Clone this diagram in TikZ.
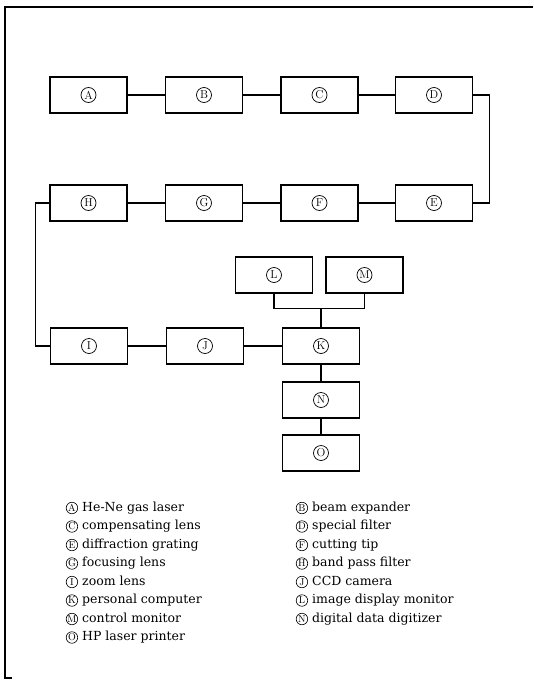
\documentclass[tikz,border=0pt]{standalone}
\usepackage{fontspec}
\usepackage{tikz}
\usetikzlibrary{positioning}
\newfontfamily\keyfont{DejaVu Serif}

\tikzset{
  blk/.style={draw,line width=1.3pt,minimum width=77pt,minimum height=36pt,inner sep=0pt,
    font=\fontsize{11.5}{13}\selectfont,
    path picture={\draw[line width=0.7pt] (path picture bounding box.center) circle (7.5pt);}},
  tag/.style={draw,circle,line width=0.6pt,inner sep=0pt,minimum size=11.5pt,font=\rmfamily\normalsize},
  item/.style={anchor=west,inner sep=0pt,text height=9.5pt,text depth=3pt,
    font=\keyfont\fontsize{12.5}{15}\selectfont},
  link/.style={line width=1.1pt}
}

\begin{document}
\begin{tikzpicture}[x=1pt,y=-1pt,label distance=4pt]
  \useasboundingbox (0,0) rectangle (533,680);
  % frame
  \draw[line width=1.8pt] (12,678) -- (5,678) -- (5,7) -- (533,7);
  % top row
  \node[blk] (a) at (88.5,95) {A};
  \node[blk] (b) at (204,95) {B};
  \node[blk] (c) at (319.5,95) {C};
  \node[blk] (d) at (434,95) {D};
  % second row, right to left
  \node[blk] (e) at (434,203) {E};
  \node[blk] (f) at (319.5,203) {F};
  \node[blk] (g) at (204,203) {G};
  \node[blk] (h) at (88.5,203) {H};
  % third row
  \node[blk] (i) at (89,346) {I};
  \node[blk] (j) at (205,346) {J};
  \node[blk] (k) at (321,346) {K};
  % monitors
  \node[blk] (l) at (274,275) {L};
  \node[blk] (m) at (364.5,275) {M};
  % output chain
  \node[blk] (n) at (321,400) {N};
  \node[blk] (o) at (321,453) {O};

  \draw[link] (a) -- (b);
  \draw[link] (b) -- (c);
  \draw[link] (c) -- (d);
  \draw[link] (d.east) -- ++(16,0) |- (e.east);
  \draw[link] (e) -- (f);
  \draw[link] (f) -- (g);
  \draw[link] (g) -- (h);
  \draw[link] (h.west) -- ++(-14,0) |- (i.west);
  \draw[link] (i) -- (j);
  \draw[link] (j) -- (k);
  \coordinate (bus) at ([yshift=19pt]k.north);
  \draw[link] (l.south) |- (bus) -| (m.south);
  \draw[link] (bus) -- (k.north);
  \draw[link] (k) -- (n);
  \draw[link] (n) -- (o);

  % legend
  \node[item,label={[tag]left:A}] (keya) at (82,508) {He-Ne gas laser};
  \node[item,label={[tag]left:B}] (keyb) at (312,508) {beam expander};
  \node[item,label={[tag]left:C}] (keyc) at (82,526.5) {compensating lens};
  \node[item,label={[tag]left:D}] (keyd) at (312,526.5) {special filter};
  \node[item,label={[tag]left:E}] (keye) at (82,545) {diffraction grating};
  \node[item,label={[tag]left:F}] (keyf) at (312,545) {cutting tip};
  \node[item,label={[tag]left:G}] (keyg) at (82,563.5) {focusing lens};
  \node[item,label={[tag]left:H}] (keyh) at (312,563.5) {band pass filter};
  \node[item,label={[tag]left:I}] (keyi) at (82,582) {zoom lens};
  \node[item,label={[tag]left:J}] (keyj) at (312,582) {CCD camera};
  \node[item,label={[tag]left:K}] (keyk) at (82,600.5) {personal computer};
  \node[item,label={[tag]left:L}] (keyl) at (312,600.5) {image display monitor};
  \node[item,label={[tag]left:M}] (keym) at (82,619) {control monitor};
  \node[item,label={[tag]left:N}] (keyn) at (312,619) {digital data digitizer};
  \node[item,label={[tag]left:O}] (keyo) at (82,637.5) {HP laser printer};
\end{tikzpicture}
\end{document}
